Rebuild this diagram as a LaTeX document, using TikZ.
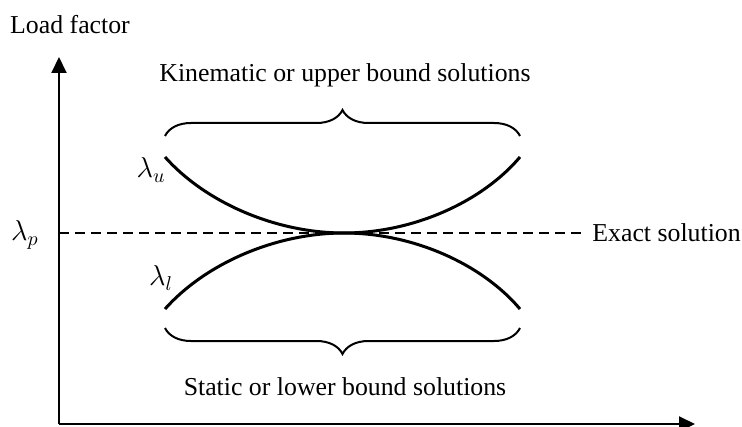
\documentclass[tikz,border=0pt]{standalone}
\usepackage{amsmath}
\usepackage{fontspec}
\setmainfont{Liberation Serif}
\usetikzlibrary{positioning, calc, arrows.meta, decorations.pathreplacing}

\begin{document}
\begin{tikzpicture}[
  x=0.5pt, y=-0.5pt,
  axis/.style={-{Triangle[length=8pt, width=7.5pt]}, line width=1pt},
  bound/.style={line width=1.5pt},
  exact/.style={dashed, dash pattern=on 5pt off 3pt, line width=0.9pt},
  brc/.style={decorate, decoration={brace, amplitude=13pt}, line width=1pt},
  lbl/.style={font=\fontsize{12.9}{15}\selectfont, inner sep=0pt},
  sym/.style={font=\fontsize{14}{16}\selectfont, inner sep=0pt}
]
  \useasboundingbox (0,0) rectangle (742,427);

  % axes
  \coordinate (O) at (59,424);
  \coordinate (ytop) at (59,57);
  \coordinate (xend) at (695,424);
  \draw[axis] (O) -- (ytop);
  \draw[axis] (O) -- (xend);
  \node[lbl] (yname) at (70,25) {Load factor};

  % exact solution level
  \node[sym] (lp) at (25,235) {$\lambda_p$};
  \node[lbl, anchor=west] (exactlbl) at (592,233) {Exact solution};
  \coordinate (p0) at (O |- exactlbl.west);
  \draw[exact] (p0) -- ($(exactlbl.west)+(-10,0)$);

  % upper and lower bound curves
  \coordinate (ul) at (165,157);
  \coordinate (ur) at (520,157);
  \coordinate (ll) at (165,309);
  \coordinate (lr) at (520,309);
  \coordinate (touch) at (344,233);
  \draw[bound] (ul) .. controls (205,202) and (275,233) .. (touch)
                    .. controls (413,233) and (482,202) .. (ur);
  \draw[bound] (ll) .. controls (205,264) and (275,233) .. (touch)
                    .. controls (413,233) and (482,264) .. (lr);
  \node[sym] (lu) at (151,170) {$\lambda_u$};
  \node[sym] (ll-lbl) at (161,278) {$\lambda_l$};

  % braces
  \coordinate (b1) at (165,136);
  \coordinate (b2) at (520,136);
  \coordinate (b3) at (520,328);
  \coordinate (b4) at (165,328);
  \draw[brc] (b1) -- (b2);
  \draw[brc] (b3) -- (b4);
  \node[lbl] (kin) at (345,75) {Kinematic or upper bound solutions};
  \node[lbl] (stat) at (345,387) {Static or lower bound solutions};
\end{tikzpicture}
\end{document}
